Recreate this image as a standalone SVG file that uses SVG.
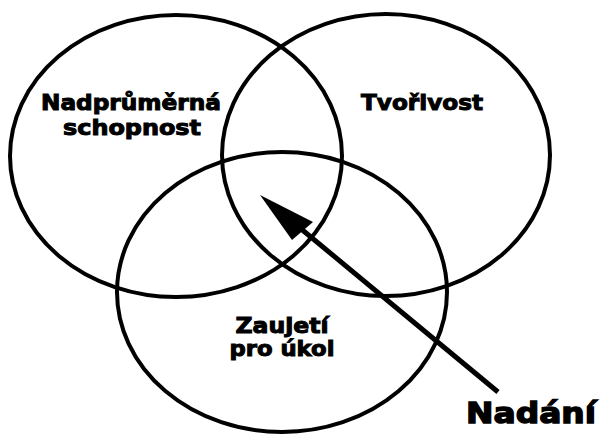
<svg xmlns="http://www.w3.org/2000/svg" width="601" height="434" viewBox="0 0 601 434">
<style>
.c{fill:none;stroke:#000;stroke-width:4}
.t{font-family:"DejaVu Sans","Liberation Sans",sans-serif;font-weight:bold;font-size:21px;fill:#000;stroke:#000;stroke-width:1;text-anchor:middle}
</style>
<rect width="601" height="434" fill="#fff"/>
<g id="n-schopnost">
<ellipse class="c" cx="176" cy="156" rx="166" ry="141"/>
<text class="t" x="131" y="110" textLength="180" lengthAdjust="spacingAndGlyphs">Nadprůměrná</text>
<text class="t" x="132" y="135" textLength="138" lengthAdjust="spacingAndGlyphs">schopnost</text>
</g>
<g id="n-tvorivost">
<ellipse class="c" cx="386" cy="155" rx="164" ry="141"/>
<text class="t" x="422" y="110" textLength="122" lengthAdjust="spacingAndGlyphs">Tvořivost</text>
</g>
<g id="n-zaujeti">
<ellipse class="c" cx="282" cy="292" rx="165" ry="140"/>
<text class="t" x="282" y="333" textLength="93" lengthAdjust="spacingAndGlyphs">Zaujetí</text>
<text class="t" x="282" y="356" textLength="105" lengthAdjust="spacingAndGlyphs">pro úkol</text>
</g>
<g id="connectors">
<line x1="498" y1="392" x2="300" y2="228" stroke="#000" stroke-width="5"/>
<polygon points="260,195 313,222 292,240" fill="#000"/>
</g>
<g id="n-nadani">
<text class="t" x="531" y="423" style="font-size:29px;stroke-width:1.4" textLength="130" lengthAdjust="spacingAndGlyphs">Nadání</text>
</g>
</svg>
